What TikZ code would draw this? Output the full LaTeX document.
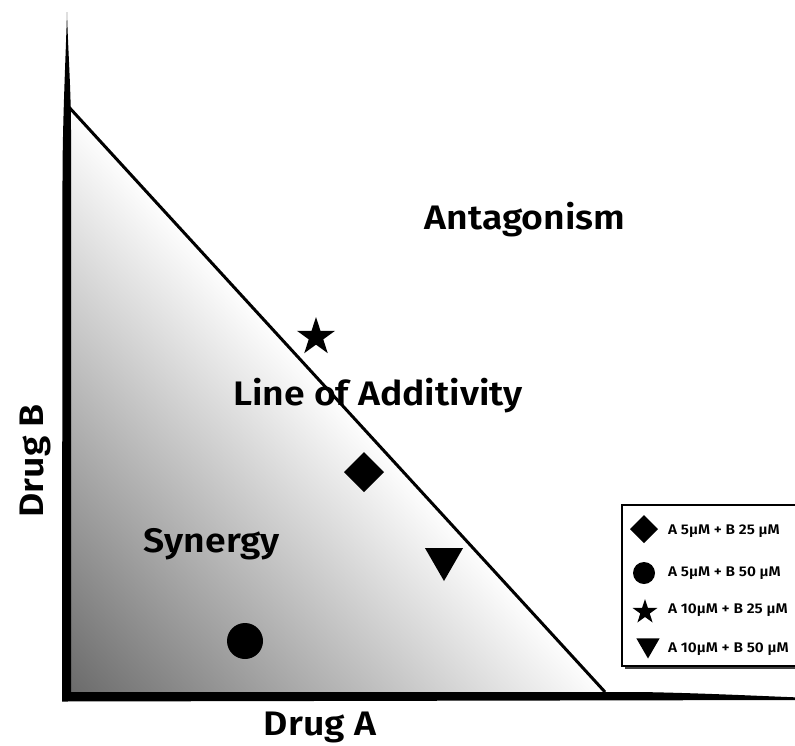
\documentclass[tikz,border=0pt]{standalone}
\usepackage{fontspec}
\setmainfont{Fira Sans}[BoldFont={Fira Sans SemiBold}, FakeStretch=1.1]
\usetikzlibrary{shapes.geometric}
\begin{document}
\begin{tikzpicture}[x=1pt,y=-1pt,
  lbl/.style={font=\bfseries\fontsize{34}{34}\selectfont, anchor=base, inner sep=0pt},
  leg/.style={font=\bfseries\fontsize{14}{14}\selectfont, anchor=west, inner sep=0pt},
  mk/.style={fill=black, draw=none, inner sep=0pt, outer sep=0pt}]
\clip (0,0) rectangle (795,745);
\fill[white] (0,0) rectangle (795,745);
% coordinates
\coordinate (top) at (67,105);
\coordinate (right) at (605,692);
% gradient triangle
\begin{scope}
\clip (71,107) -- (71,692) -- (605,692) -- cycle;
\begin{scope}[transform canvas={shift={(71,692)}, rotate=42.55}]
\shade[left color=black!58, right color=white] (0,-450) rectangle (398,450);
\end{scope}
\end{scope}
% axes
\fill (67,12) .. controls (68,50) and (71,90) .. (71,130) -- (71,692) -- (640,692)
  .. controls (700,693) and (760,696) .. (800,697.5) -- (800,700) -- (62,701.5)
  -- (62.5,180) .. controls (62.5,120) and (66,50) .. (67,12) -- cycle;
% line of additivity
\draw[line width=3pt] (top) -- (right);
% labels
\node[lbl] (ant) at (525,229) {Antagonism};
\node[lbl] (loa) at (378,405) {Line of Additivity};
\node[lbl] (syn) at (212,552) {Synergy};
\node[lbl] (da) at (320,735) {Drug A};
\node[lbl, rotate=90] (db) at (43,461) {Drug B};
% markers
\node[mk, star, star points=5, star point ratio=2.618, minimum size=40] (pstar) at (316,337) {};
\node[mk, diamond, minimum size=40] (pdia) at (364,472) {};
\node[mk, regular polygon, regular polygon sides=3, shape border rotate=180, minimum size=44] (ptri) at (444,559) {};
\node[mk, circle, minimum size=36] (pcir) at (245,641) {};
% legend
\fill[black!75] (625,508) rectangle (800,669);
\filldraw[fill=white, draw=black, line width=1.3pt] (622,505) rectangle (800,666);
\node[mk, diamond, minimum size=28] (ldia) at (644,529) {};
\node[mk, circle, minimum size=22] (lcir) at (644,573) {};
\node[mk, star, star points=5, star point ratio=2.618, minimum size=26] (lstar) at (645,612) {};
\node[mk, regular polygon, regular polygon sides=3, shape border rotate=180, minimum size=27] (ltri) at (648,645) {};
\node[leg] (t1) at (668,531) {A 5µM + B 25 µM};
\node[leg] (t2) at (668,573) {A 5µM + B 50 µM};
\node[leg] (t3) at (668,610) {A 10µM + B 25 µM};
\node[leg] (t4) at (668,649) {A 10µM + B 50 µM};
\end{tikzpicture}
\end{document}
